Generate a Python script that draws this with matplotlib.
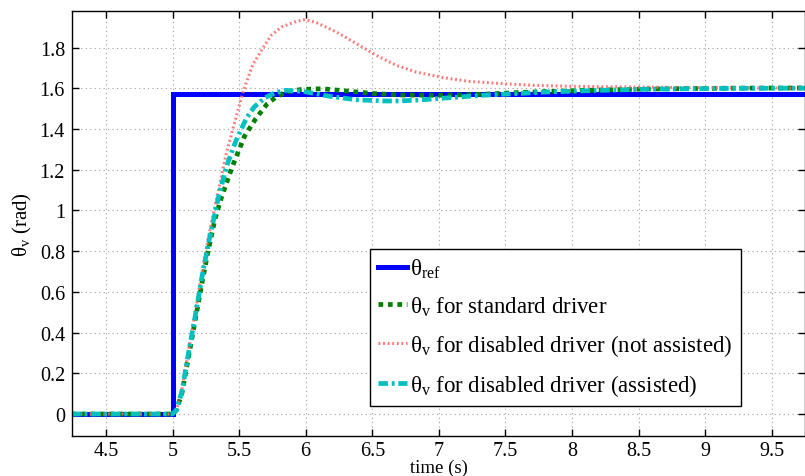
import numpy as np
import matplotlib
matplotlib.use('Agg')
import matplotlib.pyplot as plt

plt.rcParams['font.family'] = ['Liberation Serif', 'DejaVu Serif']
plt.rcParams['mathtext.fontset'] = 'custom'
plt.rcParams['mathtext.rm'] = 'Liberation Serif'
plt.rcParams['mathtext.it'] = 'Liberation Serif:italic'

# reference step
t_ref = [4.24, 5.0, 5.0, 9.76]
y_ref = [0, 0, np.pi / 2, np.pi / 2]

# standard driver
t_std = [4.24, 5.0, 5.03, 5.07, 5.12, 5.17, 5.22, 5.27, 5.32, 5.37, 5.45, 5.54, 5.625,
         5.71, 5.775, 5.85, 5.97, 6.12, 6.26, 6.5, 6.71, 7.0, 7.33, 7.58, 7.84, 8.2,
         8.6, 9.2, 9.76]
y_std = [0, 0, 0.02, 0.10, 0.28, 0.46, 0.64, 0.81, 0.96, 1.07, 1.217, 1.364, 1.451,
         1.523, 1.556, 1.582, 1.595, 1.598, 1.59, 1.575, 1.567, 1.566, 1.571, 1.579,
         1.585, 1.592, 1.597, 1.601, 1.602]

# disabled driver, not assisted
t_dis = [4.24, 5.0, 5.03, 5.07, 5.12, 5.17, 5.22, 5.27, 5.336, 5.40, 5.474, 5.53, 5.60,
         5.675, 5.74, 5.82, 5.93, 5.995, 6.08, 6.23, 6.38, 6.53, 6.68, 6.83, 7.03,
         7.23, 7.48, 7.71, 8.0, 8.5, 9.0, 9.76]
y_dis = [0, 0, 0.02, 0.12, 0.31, 0.50, 0.69, 0.87, 1.074, 1.27, 1.451, 1.582, 1.713,
         1.795, 1.86, 1.902, 1.929, 1.938, 1.923, 1.877, 1.82, 1.762, 1.713, 1.68,
         1.653, 1.634, 1.623, 1.615, 1.61, 1.606, 1.603, 1.601]

# disabled driver, assisted
t_ast = [4.24, 5.0, 5.03, 5.07, 5.12, 5.17, 5.22, 5.27, 5.30, 5.35, 5.41, 5.477, 5.557,
         5.614, 5.695, 5.77, 5.85, 5.98, 6.18, 6.38, 6.58, 6.70, 6.88, 7.08, 7.33,
         7.58, 7.81, 8.2, 8.6, 9.2, 9.76]
y_ast = [0, 0, 0.02, 0.11, 0.30, 0.48, 0.67, 0.84, 0.93, 1.08, 1.225, 1.344, 1.456,
         1.509, 1.554, 1.579, 1.59, 1.585, 1.561, 1.544, 1.538, 1.538, 1.544, 1.554,
         1.566, 1.574, 1.582, 1.59, 1.596, 1.6, 1.601]

x_ticks = [4.5, 5, 5.5, 6, 6.5, 7, 7.5, 8, 8.5, 9, 9.5]
x_labels = ['4.5', '5', '5.5', '6', '6.5', '7', '7.5', '8', '8.5', '9', '9.5']
y_ticks = [0, 0.2, 0.4, 0.6, 0.8, 1, 1.2, 1.4, 1.6, 1.8]
y_labels = ['0', '0.2', '0.4', '0.6', '0.8', '1', '1.2', '1.4', '1.6', '1.8']

fig = plt.figure(figsize=(8.05, 4.77), dpi=100)
ax = fig.add_axes([72 / 805, 40 / 477, 733 / 805, 425 / 477])

ax.plot(t_ref, y_ref, color='#0000ff', lw=3.6, solid_joinstyle='miter',
        label=r'$\mathrm{\theta_{ref}}$')
ax.plot(t_std, y_std, color='#008000', lw=3.4, linestyle=(0, (1, 1)),
        dash_capstyle='butt', label=r'$\mathrm{\theta_v}$ for standard driver')
ax.plot(t_dis, y_dis, color='#ff6a6a', lw=2.2, linestyle=(0, (0.6, 0.9)), alpha=0.9,
        label=r'$\mathrm{\theta_v}$ for disabled driver (not assisted)')
ax.plot(t_ast, y_ast, color='#00c0c0', lw=3.4, linestyle=(0, (2, 0.8, 0.6, 0.8)),
        label=r'$\mathrm{\theta_v}$ for disabled driver (assisted)')

ax.set_xlim(4.245, 9.75)
ax.set_ylim(-0.108, 1.98)
ax.set_xticks(x_ticks)
ax.set_xticklabels(x_labels)
ax.set_yticks(y_ticks)
ax.set_yticklabels(y_labels)
ax.tick_params(direction='in', length=5, width=1, top=True, right=True,
               labelsize=14.5, pad=5)
ax.tick_params(axis='x', pad=3.5)
ax.grid(True, linestyle=(0, (1, 3)), color='#a0a0a0', lw=0.8)
for s in ax.spines.values():
    s.set_linewidth(1.0)

ax.set_xlabel('time (s)', fontsize=13.5, labelpad=-0.5)
ax.set_ylabel(r'$\mathrm{\theta_v}$ (rad)', fontsize=15, labelpad=4)

leg = ax.legend(loc='lower left', bbox_to_anchor=(0.4066, 0.0706), borderaxespad=0,
                fontsize=16.5, fancybox=False, framealpha=1, edgecolor='black',
                handlelength=1.25, handletextpad=0.15, labelspacing=0.62,
                borderpad=0.35)
leg.get_frame().set_linewidth(1.0)

fig.savefig('out.png', dpi=100)
